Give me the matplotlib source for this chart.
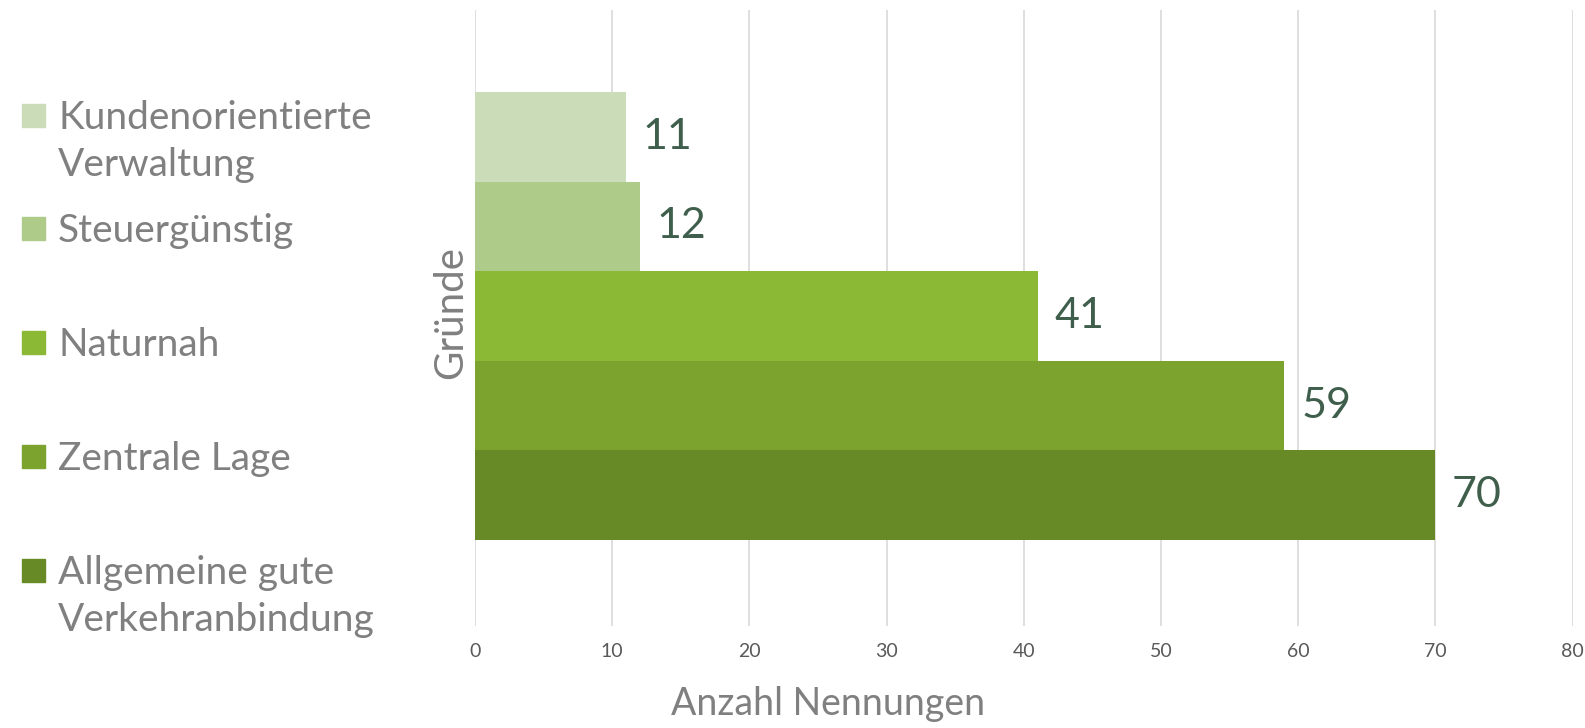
import matplotlib
matplotlib.use("Agg")
import matplotlib.pyplot as plt
from matplotlib.patches import Rectangle

plt.rcParams['font.family'] = ['Lato', 'DejaVu Sans']

# Data (top to bottom as drawn)
categories = ["Kundenorientierte\nVerwaltung", "Steuergünstig", "Naturnah",
              "Zentrale Lage", "Allgemeine gute\nVerkehranbindung"]
values = [11, 12, 41, 59, 70]
colors = ["#CBDCB9", "#AFCB8A", "#8BB835", "#7BA32E", "#678A26"]
xticks = [0, 10, 20, 30, 40, 50, 60, 70, 80]

W, H = 1585, 728
fig = plt.figure(figsize=(W / 100, H / 100), dpi=100)
ax = fig.add_axes([475 / W, 1 - 626 / H, 1097.6 / W, 616 / H])

h = 89.6 / 616
n = len(values)
for i, (v, c) in enumerate(zip(values, colors)):
    y = (i - (n - 1) / 2) * h
    ax.barh(y, v, height=h, color=c, zorder=2)
    ax.annotate(str(v), (v, y), xytext=(12, 0), textcoords="offset points",
                ha="left", va="center", fontsize=31, color="#3F5F4C")

d = 2 / 616
ax.set_xlim(0, 80)
ax.set_ylim(0.5 + d, -0.5 + d)
ax.set_xticks(xticks)
ax.set_xticklabels([str(t) for t in xticks], fontsize=14, color="#595959")
ax.set_yticks([])
ax.tick_params(axis="x", length=0, pad=12)
ax.grid(axis="x", color="#D9D9D9", linewidth=1.2, zorder=0)
for s in ax.spines.values():
    s.set_visible(False)

fig.text(828 / W, 1 - 715 / H, "Anzahl Nennungen", ha="center", va="baseline",
         fontsize=27, color="#808080")
fig.text(462 / W, 1 - 313 / H, "Gründe", ha="center", va="baseline",
         rotation=90, rotation_mode="anchor", fontsize=29, color="#808080")

# Legend (manual)
leg_y = [115, 228, 342, 456, 570]
line_gap = 47
for lab, c, yy in zip(categories, colors, leg_y):
    fig.patches.append(Rectangle((22 / W, 1 - (yy + 12) / H), 23 / W, 23 / H,
                                 transform=fig.transFigure, color=c))
    for k, line in enumerate(lab.split("\n")):
        base = yy + 14 + k * line_gap
        fig.text(58 / W, 1 - base / H, line, ha="left", va="baseline",
                 fontsize=28, color="#808080")

fig.savefig("out.png", dpi=100)
